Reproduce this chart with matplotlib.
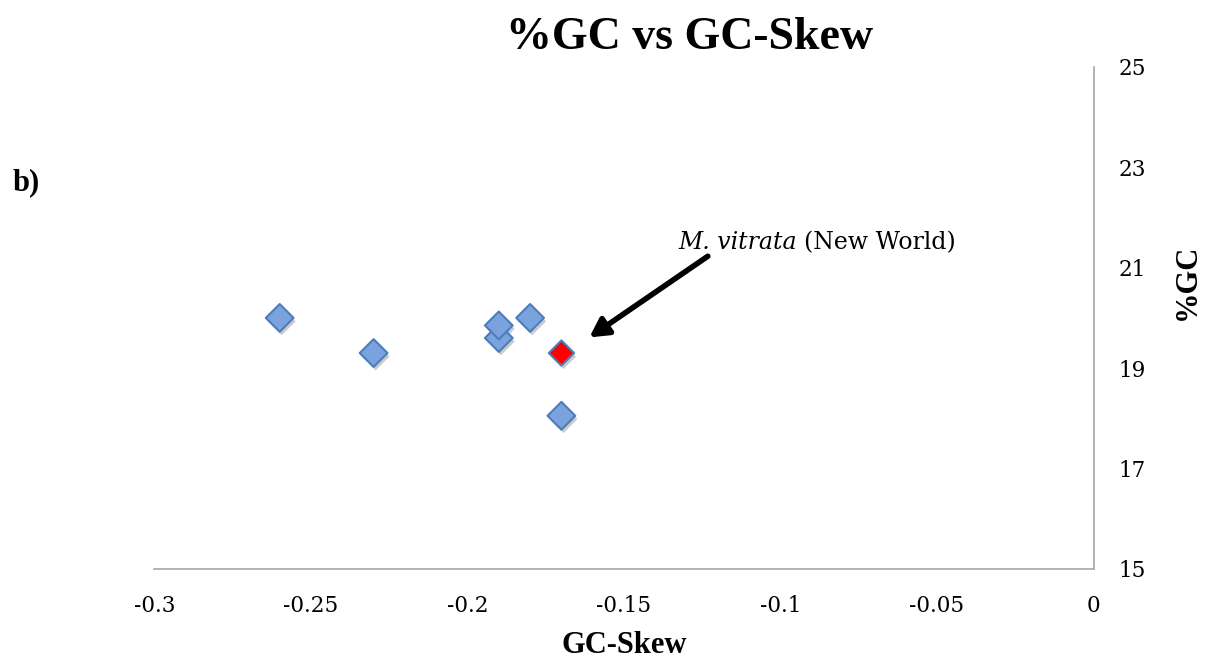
import matplotlib.pyplot as plt
import matplotlib.patheffects as pe

# data
gc_skew = [-0.26, -0.23, -0.19, -0.19, -0.18, -0.17]
gc_pct = [20.0, 19.3, 19.6, 19.85, 20.0, 18.05]
hl_skew = [-0.17]
hl_pct = [19.3]
xticks = [-0.3, -0.25, -0.2, -0.15, -0.1, -0.05, 0]
yticks = [15, 17, 19, 21, 23, 25]

times = ['Liberation Serif', 'DejaVu Serif']
cambria = ['DejaVu Serif']

fig = plt.figure(figsize=(12.07, 6.63), dpi=100)
ax = fig.add_axes([0.128, 0.142, 0.778, 0.757])

shadow = [pe.SimplePatchShadow(offset=(1.5, -2.5), alpha=0.3, shadow_rgbFace='#555555'),
          pe.Normal()]
ax.scatter(gc_skew, gc_pct, marker='D', s=200, c='#7aa3dd', edgecolors='#4a7ebb',
           linewidths=1.5, zorder=3, path_effects=shadow)
ax.scatter(hl_skew, hl_pct, marker='D', s=165, c='#ff0000', edgecolors='#4a7ebb',
           linewidths=1.5, zorder=4, path_effects=shadow)

ax.set_xlim(-0.3, 0)
ax.set_ylim(15, 25)
ax.set_xticks(xticks)
ax.set_xticklabels([f'{t:g}' for t in xticks])
ax.set_yticks(yticks)
ax.yaxis.tick_right()
ax.tick_params(length=0, labelsize=15.5)
ax.tick_params(axis='x', pad=19)
ax.tick_params(axis='y', pad=18)
for lab in ax.get_xticklabels() + ax.get_yticklabels():
    lab.set_family(cambria)

for s in ['top', 'left']:
    ax.spines[s].set_visible(False)
for s in ['bottom', 'right']:
    ax.spines[s].set_color('#a6a6a6')
    ax.spines[s].set_linewidth(1.2)

ax.set_xlabel('GC-Skew', fontsize=22, fontweight='bold', family=times, labelpad=10)
fig.text(0.984, 0.575, '%GC', fontsize=22, fontweight='bold', family=times,
         rotation=90, ha='center', va='center')
fig.text(0.571, 0.942, '%GC vs GC-Skew', fontsize=33, fontweight='bold', family=times,
         ha='center', va='center')
fig.text(0.010, 0.724, 'b)', fontsize=22, fontweight='bold', family=times, va='center')

# arrow and label for the highlighted point
ax.annotate('', xy=(-0.1618, 19.58), xytext=(-0.1225, 21.26),
            arrowprops=dict(arrowstyle='-|>,head_length=1.1,head_width=0.6', lw=4,
                            color='black'))
ax.text(-0.0948, 21.5, 'M. vitrata', fontsize=17, style='italic', family=cambria,
        va='center', ha='right')
ax.text(-0.0925, 21.5, '(New World)', fontsize=17, family=cambria, va='center', ha='left')

fig.savefig('out.png', dpi=100)
